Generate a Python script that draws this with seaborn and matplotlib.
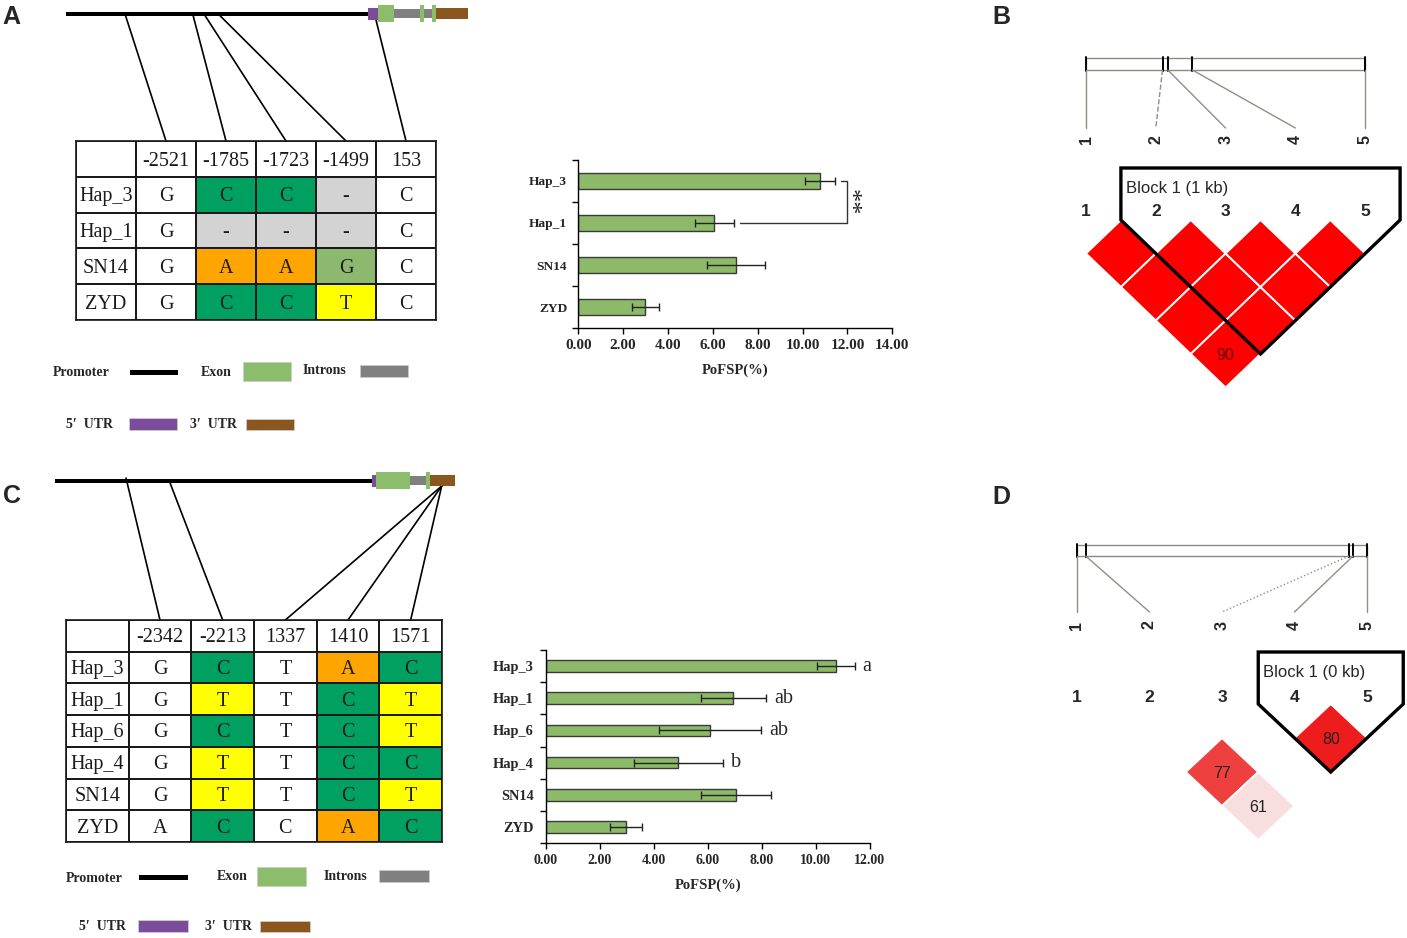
import numpy as np
import pandas as pd
import matplotlib
matplotlib.use("Agg")
import matplotlib.pyplot as plt
import seaborn as sns
from matplotlib.colors import ListedColormap
from matplotlib.patches import Rectangle, Polygon

# ---------------- data ----------------
catsA = ["Hap_3", "Hap_1", "SN14", "ZYD"]
meanA = [10.79, 6.07, 7.03, 2.99]
errA = [0.67, 0.87, 1.29, 0.60]

catsC = ["Hap_3", "Hap_1", "Hap_6", "Hap_4", "SN14", "ZYD"]
meanC = [10.74, 6.94, 6.08, 4.91, 7.03, 2.97]
errC = [0.69, 1.20, 1.89, 1.65, 1.29, 0.59]
lettersC = ["a", "ab", "ab", "b", "", ""]

snpA = ["-2521", "-1785", "-1723", "-1499", "153"]
hapA = ["Hap_3", "Hap_1", "SN14", "ZYD"]
genoA = [["G", "C", "C", "-", "C"],
         ["G", "-", "-", "-", "C"],
         ["G", "A", "A", "G", "C"],
         ["G", "C", "C", "T", "C"]]

snpC = ["-2342", "-2213", "1337", "1410", "1571"]
hapC = ["Hap_3", "Hap_1", "Hap_6", "Hap_4", "SN14", "ZYD"]
genoC = [["G", "C", "T", "A", "C"],
         ["G", "T", "T", "C", "T"],
         ["G", "C", "T", "C", "T"],
         ["G", "T", "T", "C", "C"],
         ["G", "T", "T", "C", "T"],
         ["A", "C", "C", "A", "C"]]

# LD (D') values
dprimeB = {(1, 2): 100, (1, 3): 100, (1, 4): 100, (1, 5): 90,
           (2, 3): 100, (2, 4): 100, (2, 5): 100,
           (3, 4): 100, (3, 5): 100, (4, 5): 100}
dprimeD = {(4, 5): 80, (2, 4): 77, (2, 5): 61}
snp_labels = ["1", "2", "3", "4", "5"]
snp_relpos_B = [0.0, 0.274, 0.293, 0.381, 1.0]
snp_relpos_D = [0.0, 0.03, 0.938, 0.952, 1.0]
blockB = ("Block 1 (1 kb)", 2, 5)
blockD = ("Block 1 (0 kb)", 4, 5)

# ---------------- styles ----------------
W, H = 1407, 938
sns.set_theme(style="white")
plt.rcParams["font.family"] = ["Liberation Serif", "DejaVu Sans"]
plt.rcParams["axes.edgecolor"] = "black"

bar_green = "#8DBA68"
cell_colors = ["#FFFFFF", "#00A061", "#D3D3D3", "#FFA500", "#8DB870", "#FFFF00"]
shadeA = [[0, 1, 1, 2, 0], [0, 2, 2, 2, 0], [0, 3, 3, 4, 0], [0, 1, 1, 5, 0]]
shadeC = [[0, 1, 0, 3, 1], [0, 5, 0, 1, 5], [0, 1, 0, 1, 5],
          [0, 5, 0, 1, 1], [0, 5, 0, 1, 5], [0, 1, 0, 3, 1]]
ld_colB = {k: "#FF0000" for k in dprimeB}
ld_colD = {(4, 5): "#EE1C1C", (2, 4): "#EF4040", (2, 5): "#F8DEDE"}
gene_cols = {"promoter": "#000000", "utr5": "#7B4C9C", "exon": "#8CBD6A",
             "intron": "#808080", "utr3": "#8B571F"}
gene_h = {"promoter": 4.5, "utr5": 12, "exon": 17, "intron": 9, "utr3": 11}

fig = plt.figure(figsize=(W / 100, H / 100), dpi=100)
fig.patch.set_facecolor("white")

ov = fig.add_axes([0, 0, 1, 1])
ov.set_xlim(0, W)
ov.set_ylim(H, 0)
ov.axis("off")
ov.patch.set_alpha(0)


def px_axes(x0, y0, x1, y1):
    return fig.add_axes([x0 / W, 1 - y1 / H, (x1 - x0) / W, (y1 - y0) / H])


# ---------------- panel letters ----------------
for lab, (x, y) in {"A": (11, 17), "B": (1001, 17), "C": (12, 496), "D": (1001, 497)}.items():
    ov.text(x, y, lab, fontsize=18, fontweight="bold", family="Liberation Sans",
            ha="center", va="center")


# ---------------- tables ----------------
def draw_table(rect, snps, haps, geno, shade):
    ax = px_axes(*rect)
    nr, nc = len(haps) + 1, len(snps) + 1
    codes = np.zeros((nr, nc))
    labels = np.empty((nr, nc), dtype=object)
    labels[0, 0] = ""
    labels[0, 1:] = snps
    labels[1:, 0] = haps
    labels[1:, 1:] = np.array(geno)
    codes[1:, 1:] = np.array(shade)
    sns.heatmap(codes, annot=labels, fmt="", cmap=ListedColormap(cell_colors),
                vmin=-0.5, vmax=len(cell_colors) - 0.5, cbar=False,
                linewidths=1.2, linecolor="#1a1a1a", xticklabels=False, yticklabels=False,
                annot_kws=dict(fontsize=14.5, family="Liberation Serif", color="#1a1a1a"),
                ax=ax)
    for t in ax.texts:
        x, y = t.get_position()
        t.set_position((x, y + 0.06))
    for s in ax.spines.values():
        s.set_visible(True)
        s.set_color("#1a1a1a")
        s.set_linewidth(1.2)
    x0, y0, x1, y1 = rect
    cw = (x1 - x0) / nc
    centers = [x0 + (k + 1.5) * cw for k in range(len(snps))]
    return centers


tabA = (76, 141, 436, 320)
tabC = (66, 620, 442, 842)
centersA = draw_table(tabA, snpA, hapA, genoA, shadeA)
centersC = draw_table(tabC, snpC, hapC, genoC, shadeC)


# ---------------- gene structures ----------------
def draw_gene(segs, yc):
    order = ["promoter", "intron", "utr5", "utr3", "exon"]
    for kind in order:
        for (a, b, k) in segs:
            if k != kind:
                continue
            h = gene_h[k]
            ov.add_patch(Rectangle((a, yc - h / 2), b - a, h, facecolor=gene_cols[k],
                                   edgecolor="none", zorder=3))


segA = [(65.7, 368, "promoter"), (368, 378, "utr5"), (378, 394, "exon"),
        (394, 420, "intron"), (420, 424, "exon"), (424, 431.7, "intron"),
        (431.7, 435.7, "exon"), (435.7, 468, "utr3")]
segC = [(55, 371.7, "promoter"), (371.7, 376, "utr5"), (376, 410, "exon"),
        (410, 426, "intron"), (426, 430, "exon"), (430, 455, "utr3")]
draw_gene(segA, 13.8)
draw_gene(segC, 481)

srcA = [(125, 14), (192.7, 14), (204, 14), (218.3, 14), (375, 16)]
for (sx, sy), tx in zip(srcA, centersA):
    ov.plot([sx, tx], [sy, tabA[1]], color="black", lw=1.2, zorder=2)
srcC = [(126, 478), (169.3, 481), (441.7, 486), (441.7, 486), (441.7, 486)]
for (sx, sy), tx in zip(srcC, centersC):
    ov.plot([sx, tx], [sy, tabC[1]], color="black", lw=1.2, zorder=2)


# legends
def legend_item(text, tx, ty, kind, bx0, bx1, h):
    ov.text(tx, ty, text, fontsize=10, fontweight="bold", family="Liberation Serif",
            ha="left", va="center")
    ov.add_patch(Rectangle((bx0, ty - h / 2), bx1 - bx0, h, facecolor=gene_cols[kind],
                           edgecolor="#cccccc" if kind != "promoter" else "none", lw=0.6))


legend_item("Promoter", 53, 373, "promoter", 130, 178, 5)
legend_item("Exon", 201, 372, "exon", 243, 291, 19)
legend_item("Introns", 303, 371, "intron", 360, 408, 12)
legend_item("5\u2032  UTR", 66, 424, "utr5", 129, 177, 12)
legend_item("3\u2032  UTR", 190, 425, "utr3", 246, 294, 11)

legend_item("Promoter", 66, 878, "promoter", 139, 188, 5)
legend_item("Exon", 217, 877, "exon", 257, 306, 19)
legend_item("Introns", 324, 876, "intron", 379, 429, 12)
legend_item("5\u2032  UTR", 79, 926, "utr5", 138, 188, 12)
legend_item("3\u2032  UTR", 205, 927, "utr3", 260, 310, 11)


# ---------------- bar charts ----------------
def draw_bars(rect, cats, means, errs, xmax, tick_fs, lab_fs, ylab_pad, xlab_pad):
    ax = px_axes(*rect)
    ax.patch.set_alpha(0)
    df = pd.DataFrame({"hap": cats, "val": means})
    sns.barplot(data=df, x="val", y="hap", orient="h", color=bar_green, saturation=1,
                edgecolor="#3a3a3a", linewidth=1, width=0.36, errorbar=None, ax=ax)
    ax.errorbar(means, np.arange(len(cats)), xerr=errs, fmt="none", ecolor="#222222",
                elinewidth=1, capsize=3, capthick=1)
    ax.set_xlim(0, xmax)
    ax.set_ylim(len(cats) - 0.5, -0.5)
    ticks = np.arange(0, xmax + 0.01, 2)
    ax.set_xticks(ticks)
    ax.set_xticklabels([f"{t:.2f}" for t in ticks], fontsize=tick_fs, fontweight="bold",
                       family="Liberation Serif")
    ax.set_yticks(np.arange(len(cats)))
    ax.set_yticklabels(cats, fontsize=lab_fs, fontweight="bold", family="Liberation Serif")
    ax.set_yticks(np.arange(len(cats) + 1) - 0.5, minor=True)
    ax.tick_params(axis="y", which="major", length=0, pad=ylab_pad)
    ax.tick_params(axis="y", which="minor", length=4, width=1, color="black", direction="out", left=True)
    ax.tick_params(axis="x", which="major", length=4, width=1, color="black", direction="out",
                   bottom=True, pad=4)
    ax.set_ylabel("")
    ax.set_xlabel("PoFSP(%)", fontsize=10.5, fontweight="bold", family="Liberation Serif",
                  labelpad=xlab_pad)
    for s in ["top", "right"]:
        ax.spines[s].set_visible(False)
    for s in ["left", "bottom"]:
        ax.spines[s].set_color("black")
        ax.spines[s].set_linewidth(1)
    return ax


axA = draw_bars((578.3, 160, 892.3, 328), catsA, meanA, errA, 14, 11, 9.6, 8, 8)
axA.plot([11.70, 11.97, 11.97, 7.21], [0, 0, 1, 1], color="#333333", lw=1, clip_on=False)
axA.text(12.05, 0.5, "**", rotation=-90, fontsize=19, ha="center", va="center",
         family="Liberation Serif")

axC = draw_bars((545.7, 650, 870, 843), catsC, meanC, errC, 12, 10, 10.4, 8.5, 8)
for i, (m, e, t) in enumerate(zip(meanC, errC, lettersC)):
    if t:
        axC.text(m + e + 0.3, i, t, fontsize=14.5, ha="left", va="center",
                 family="Liberation Serif")


# ---------------- LD plots ----------------
def draw_ld(x_first, spacing, label_y, top0, hy, bar_y0, bar_y1, line_y, rot_y,
            relpos, styles, dprime, colors, block, text_col):
    n = len(snp_labels)
    xs = [x_first + spacing * k for k in range(n)]
    hx = spacing / 2
    # gene map
    bx0, bx1 = xs[0], xs[-1]
    ov.add_patch(Rectangle((bx0, bar_y0), bx1 - bx0, bar_y1 - bar_y0, facecolor="white",
                           edgecolor="#8a8a80", lw=1))
    for k in range(n):
        px = bx0 + relpos[k] * (bx1 - bx0)
        ov.plot([px, px], [bar_y0 - 1, bar_y1 + 1], color="black", lw=1.4)
        ov.plot([px, xs[k]], [bar_y1, line_y], color="#8f8f86", lw=1, ls=styles[k])
        ov.text(xs[k], rot_y, snp_labels[k], rotation=90, fontsize=11.5, fontweight="bold",
                family="Liberation Sans", ha="center", va="center")
        ov.text(xs[k], label_y, snp_labels[k], fontsize=12.5, fontweight="bold",
                family="Liberation Sans", ha="center", va="center")
    # diamonds
    for (i, j), v in dprime.items():
        d = j - i
        cx = (xs[i - 1] + xs[j - 1]) / 2
        cy = top0 + hy * d
        ov.add_patch(Polygon([(cx, cy - hy), (cx + hx, cy), (cx, cy + hy), (cx - hx, cy)],
                             closed=True, facecolor=colors[(i, j)], edgecolor="white", lw=1.4,
                             zorder=3))
        if v < 100:
            ov.text(cx, cy + 1, str(v), fontsize=11.5, family="Liberation Sans",
                    color=text_col, ha="center", va="center", zorder=4)
    # block outline
    name, a, b = block
    xa, xb = xs[a - 1] - hx, xs[b - 1] + hx
    cxb = (xs[a - 1] + xs[b - 1]) / 2
    ybot = top0 + hy * (b - a + 1)
    ytop = top0 - 52
    ov.add_patch(Polygon([(xa, ytop), (xb, ytop), (xb, top0), (cxb, ybot), (xa, top0)],
                         closed=True, facecolor="none", edgecolor="black", lw=2.4, zorder=5,
                         joinstyle="miter"))
    ov.text(xa + 5, ytop + 20, name, fontsize=12, family="Liberation Sans",
            ha="left", va="center", zorder=6)


draw_ld(1086, 69.8, 212, 220, 33.5, 58, 70, 128, 140, snp_relpos_B,
        ["-", "--", "-", "-", "-"], dprimeB, ld_colB, blockB, "#6a0000")
draw_ld(1077, 72.5, 697, 704, 34, 545, 556, 612, 625, snp_relpos_D,
        ["-", "-", ":", "-", "-"], dprimeD, ld_colD, blockD, "#222222")

fig.savefig("out.png", dpi=100, facecolor="white")
